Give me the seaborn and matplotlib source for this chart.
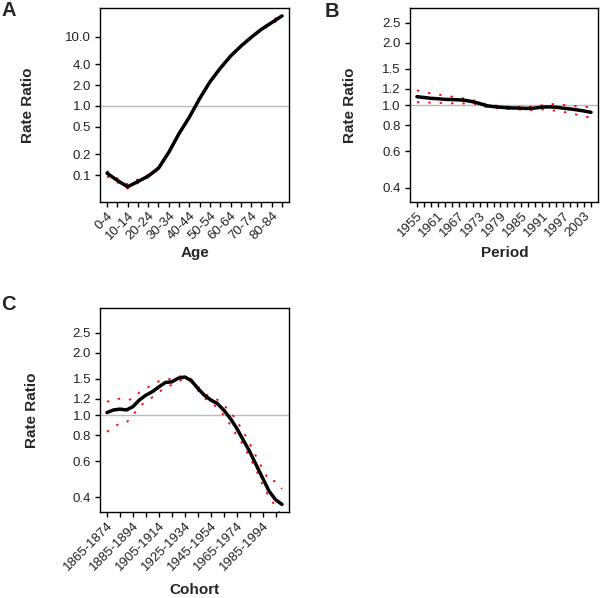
import numpy as np
import pandas as pd
import matplotlib
matplotlib.use("Agg")
import matplotlib.pyplot as plt
import seaborn as sns

# Age effect (rate ratio) with CI
age_groups = ['0-4', '5-9', '10-14', '15-19', '20-24', '25-29', '30-34', '35-39', '40-44',
              '45-49', '50-54', '55-59', '60-64', '65-69', '70-74', '75-79', '80-84', '85+']
age_rr = [0.107, 0.084, 0.068, 0.081, 0.097, 0.126, 0.214, 0.40, 0.69,
          1.28, 2.23, 3.50, 5.25, 7.30, 9.80, 12.8, 16.0, 20.0]
age_hi = [0.115, 0.090, 0.074, 0.087, 0.101, 0.131, 0.222, 0.41, 0.71,
          1.31, 2.27, 3.56, 5.34, 7.43, 10.0, 13.2, 16.6, 21.8]
age_lo = [0.096, 0.079, 0.064, 0.077, 0.093, 0.121, 0.207, 0.39, 0.67,
          1.25, 2.19, 3.44, 5.16, 7.17, 9.6, 12.4, 15.4, 18.6]

# Period effect
period_years = [1955, 1957, 1959, 1961, 1963, 1965, 1967, 1969, 1971, 1973, 1975, 1977, 1979,
                1981, 1983, 1985, 1987, 1989, 1991, 1993, 1995, 1997, 1999, 2001, 2003, 2005]
period_rr = [1.10, 1.09, 1.08, 1.075, 1.068, 1.065, 1.062, 1.055, 1.04, 1.02, 0.995, 0.985, 0.978,
             0.972, 0.970, 0.968, 0.965, 0.970, 0.980, 0.982, 0.978, 0.968, 0.960, 0.950, 0.938, 0.925]
period_hi = [1.18, 1.16, 1.14, 1.125, 1.115, 1.10, 1.09, 1.075, 1.06, 1.035, 1.01, 1.00, 0.99,
             0.985, 0.983, 0.982, 0.982, 0.99, 1.00, 1.01, 1.015, 1.005, 0.998, 0.99, 0.985, 0.975]
period_lo = [1.035, 1.033, 1.03, 1.028, 1.025, 1.022, 1.02, 1.02, 1.02, 1.005, 0.98, 0.97, 0.965,
             0.96, 0.957, 0.953, 0.948, 0.948, 0.955, 0.95, 0.94, 0.93, 0.915, 0.90, 0.885, 0.87]
period_ticks = list(range(1955, 2006, 2))
period_labels = [str(y) if (y - 1955) % 6 == 0 else '' for y in period_ticks]

# Cohort effect
cohort_years = [1865, 1870, 1875, 1880, 1885, 1890, 1895, 1900, 1905, 1910, 1915, 1920, 1925, 1930,
                1935, 1940, 1945, 1950, 1955, 1960, 1965, 1970, 1975, 1980, 1985, 1990, 1995, 2000]
cohort_rr = [1.03, 1.06, 1.07, 1.06, 1.10, 1.185, 1.25, 1.30, 1.37, 1.44, 1.45, 1.51, 1.53, 1.47,
             1.35, 1.25, 1.185, 1.14, 1.06, 0.967, 0.866, 0.76, 0.668, 0.576, 0.497, 0.429, 0.39, 0.37]
cohort_hi = [1.16, 1.20, 1.20, 1.18, 1.20, 1.29, 1.35, 1.40, 1.46, 1.49, 1.50, 1.54, 1.55, 1.49,
             1.38, 1.28, 1.22, 1.19, 1.12, 1.04, 0.94, 0.835, 0.73, 0.632, 0.55, 0.48, 0.48, 0.44]
cohort_lo = [0.83, 0.88, 0.91, 0.92, 1.00, 1.10, 1.17, 1.22, 1.29, 1.37, 1.40, 1.46, 1.50, 1.45,
             1.32, 1.21, 1.15, 1.09, 1.00, 0.90, 0.80, 0.72, 0.625, 0.545, 0.46, 0.40, 0.363, 0.32]
cohort_ticks = list(range(1865, 2000, 10))
cohort_labels = [f'{y}-{y + 9}' if (y - 1865) % 20 == 0 else '' for y in cohort_ticks]

sns.set_style("ticks")
plt.rcParams['font.family'] = ['Liberation Sans', 'DejaVu Sans']
plt.rcParams['xtick.major.size'] = 3.5
plt.rcParams['ytick.major.size'] = 3.5
plt.rcParams['xtick.major.pad'] = 2
plt.rcParams['ytick.major.pad'] = 3

fig = plt.figure(figsize=(6.0, 5.98), dpi=100)
axA = fig.add_axes([0.1667, 0.6622, 0.315, 0.3244])
axB = fig.add_axes([0.6833, 0.6622, 0.3133, 0.3244])
axC = fig.add_axes([0.1667, 0.1438, 0.315, 0.3411])

tick_fs = 9.5
lab_fs = 11


def draw_panel(ax, x, rr, hi, lo):
    ax.axhline(1.0, color='#bbbbbb', lw=1.0, zorder=1)
    df = pd.DataFrame({'x': x, 'rr': rr, 'hi': hi, 'lo': lo})
    for col in ['hi', 'lo']:
        sns.lineplot(data=df, x='x', y=col, ax=ax, color='red', lw=1.3,
                     linestyle=(0, (1.3, 5)), zorder=2)
    sns.lineplot(data=df, x='x', y='rr', ax=ax, color='black', lw=2.5, zorder=3)
    ax.set_yscale('log')
    ax.minorticks_off()
    for s in ax.spines.values():
        s.set_visible(True)
        s.set_color('black')
        s.set_linewidth(1.0)
    ax.tick_params(colors='black', labelsize=tick_fs, width=1.0)


# Panel A
age_pos = np.arange(len(age_groups))
draw_panel(axA, age_pos, age_rr, age_hi, age_lo)
axA.set_xlim(-0.68, len(age_groups) - 1 + 0.68)
axA.set_ylim(0.041, 26)
axA.set_yticks([0.1, 0.2, 0.5, 1, 2, 4, 10])
axA.set_yticklabels(['0.1', '0.2', '0.5', '1.0', '2.0', '4.0', '10.0'], fontsize=tick_fs)
axA.set_xticks(age_pos)
axA.set_xticklabels([g if i % 2 == 0 else '' for i, g in enumerate(age_groups)],
                    rotation=45, ha='right', rotation_mode='anchor', fontsize=tick_fs)
axA.set_xlabel('Age', fontsize=lab_fs, fontweight='bold')
axA.set_ylabel('Rate Ratio', fontsize=lab_fs, fontweight='bold')
axA.xaxis.set_label_coords(0.5, -0.225)
axA.yaxis.set_label_coords(-0.344, 0.5)

rr_ticks = [0.4, 0.6, 0.8, 1.0, 1.2, 1.5, 2.0, 2.5]
rr_labels = ['0.4', '0.6', '0.8', '1.0', '1.2', '1.5', '2.0', '2.5']

# Panel B
draw_panel(axB, period_years, period_rr, period_hi, period_lo)
axB.set_xlim(1953, 2007)
axB.set_ylim(0.342, 2.94)
axB.set_yticks(rr_ticks)
axB.set_yticklabels(rr_labels, fontsize=tick_fs)
axB.set_xticks(period_ticks)
axB.set_xticklabels(period_labels, rotation=45, ha='right', rotation_mode='anchor', fontsize=tick_fs)
axB.set_xlabel('Period', fontsize=lab_fs, fontweight='bold')
axB.set_ylabel('Rate Ratio', fontsize=lab_fs, fontweight='bold')
axB.xaxis.set_label_coords(0.504, -0.225)
axB.yaxis.set_label_coords(-0.282, 0.5)

# Panel C
draw_panel(axC, cohort_years, cohort_rr, cohort_hi, cohort_lo)
axC.set_xlim(1859.6, 2005.4)
axC.set_ylim(0.34, 3.3)
axC.set_yticks(rr_ticks)
axC.set_yticklabels(rr_labels, fontsize=tick_fs)
axC.set_xticks(cohort_ticks)
axC.set_xticklabels(cohort_labels, rotation=45, ha='right', rotation_mode='anchor', fontsize=tick_fs)
axC.set_xlabel('Cohort', fontsize=lab_fs, fontweight='bold')
axC.set_ylabel('Rate Ratio', fontsize=lab_fs, fontweight='bold')
axC.xaxis.set_label_coords(0.5, -0.35)
axC.yaxis.set_label_coords(-0.323, 0.5)

for ax in [axA, axB, axC]:
    for t in ax.get_yticklabels() + ax.get_xticklabels():
        t.set_color('#222222')

fig.text(0.002, 0.998, 'A', fontsize=14.5, fontweight='heavy', va='top', ha='left')
fig.text(0.541, 0.996, 'B', fontsize=14.5, fontweight='heavy', va='top', ha='left')
fig.text(0.002, 0.506, 'C', fontsize=14.5, fontweight='heavy', va='top', ha='left')

fig.savefig('out.png', dpi=100)
